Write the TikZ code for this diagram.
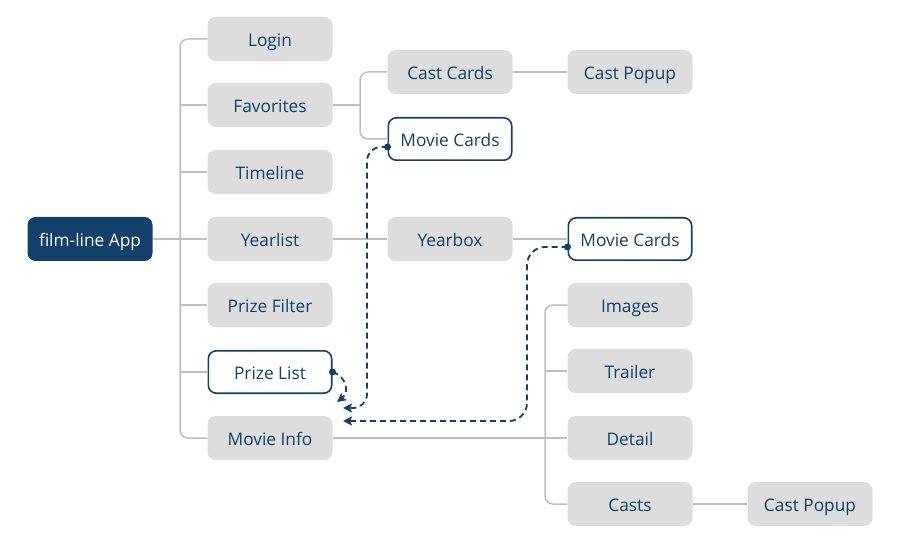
\documentclass[tikz,border=0pt]{standalone}
\usepackage{fontspec}
\setmainfont{Open Sans}
\usetikzlibrary{arrows.meta}
\definecolor{navy}{HTML}{11406A}
\definecolor{boxgray}{HTML}{DCDDDC}
\definecolor{linegray}{HTML}{BDBDBD}
\begin{document}
\begin{tikzpicture}[x=1pt,y=-1pt,
  base/.style={rounded corners=8pt, minimum width=125pt, minimum height=44pt, inner sep=0pt, text height=18pt, text depth=3pt, font=\fontsize{17.3}{19}\selectfont, text=navy},
  box/.style={base, fill=boxgray},
  obox/.style={base, fill=white, draw=navy, line width=1.6pt, minimum width=123.4pt, minimum height=42.4pt},
  rootbox/.style={base, fill=navy, text=white},
  link/.style={draw=linegray, line width=1.5pt, rounded corners=8pt},
  dlink/.style={draw=navy, line width=1.8pt, dash pattern=on 6pt off 4pt, -{Stealth[length=9pt,width=9pt,inset=2pt]}},
  dotc/.style={fill=navy}
]
\useasboundingbox (0,0) rectangle (900,540);
% nodes
\node[rootbox] (root) at (90,239) {film-line App};
\node[box] (login) at (270,39) {Login};
\node[box] (fav) at (270,105) {Favorites};
\node[box] (timeline) at (270,172) {Timeline};
\node[box] (yearlist) at (270,239) {Yearlist};
\node[box] (pfilter) at (270,305) {Prize Filter};
\node[obox] (plist) at (270,372) {Prize List};
\node[box] (minfo) at (270,438) {Movie Info};
\node[box] (ccards) at (450,72) {Cast Cards};
\node[obox] (mc1) at (450,139) {Movie Cards};
\node[box] (yearbox) at (450,239) {Yearbox};
\node[box] (cpop1) at (630,72) {Cast Popup};
\node[obox] (mc2) at (630,239) {Movie Cards};
\node[box] (images) at (630,305) {Images};
\node[box] (trailer) at (630,371) {Trailer};
\node[box] (detail) at (630,438) {Detail};
\node[box] (casts) at (630,504) {Casts};
\node[box] (cpop2) at (810,504) {Cast Popup};
% trunk
\coordinate (tr) at (180,239);
\draw[link] (login.west) -| (tr) |- (minfo.west);
\draw[link] (root.east) -- (yearlist.west);
\draw[link] (fav.west -| tr) -- (fav.west);
\draw[link] (timeline.west -| tr) -- (timeline.west);
\draw[link] (pfilter.west -| tr) -- (pfilter.west);
\draw[link] (plist.west -| tr) -- (plist.west);
% favorites branch
\coordinate (fb) at (360,105);
\draw[link] (ccards.west) -| (fb) |- (mc1.west);
\draw[link] (fav.east) -- (fb);
\draw[link] (ccards.east) -- (cpop1.west);
% yearlist branch
\draw[link] (yearlist.east) -- (yearbox.west);
\draw[link] (yearbox.east) -- (mc2.west);
% movie info branch
\coordinate (mb) at (545,438);
\draw[link] (minfo.east) -- (detail.west);
\draw[link] (images.west) -| (mb) |- (casts.west);
\draw[link] (trailer.west -| mb) -- (trailer.west);
\draw[link] (casts.east) -- (cpop2.west);
% dashed links
\coordinate (s1) at ([yshift=-8pt]mc1.west);
\coordinate (e1) at (343,408);
\draw[dlink, rounded corners=14pt] (s1) -| (367,408) -- (e1);
\fill[dotc] (s1) circle (3.5pt);
\coordinate (s2) at ([yshift=-8pt]mc2.west);
\coordinate (e2) at (343,421);
\draw[dlink, rounded corners=18pt] (s2) -| (527,421) -- (e2);
\fill[dotc] (s2) circle (3.5pt);
\coordinate (e3) at (337,402);
\draw[dlink] (plist.east) .. controls (346,376) and (350,392) .. (e3);
\fill[dotc] (plist.east) circle (3.5pt);
\end{tikzpicture}
\end{document}
